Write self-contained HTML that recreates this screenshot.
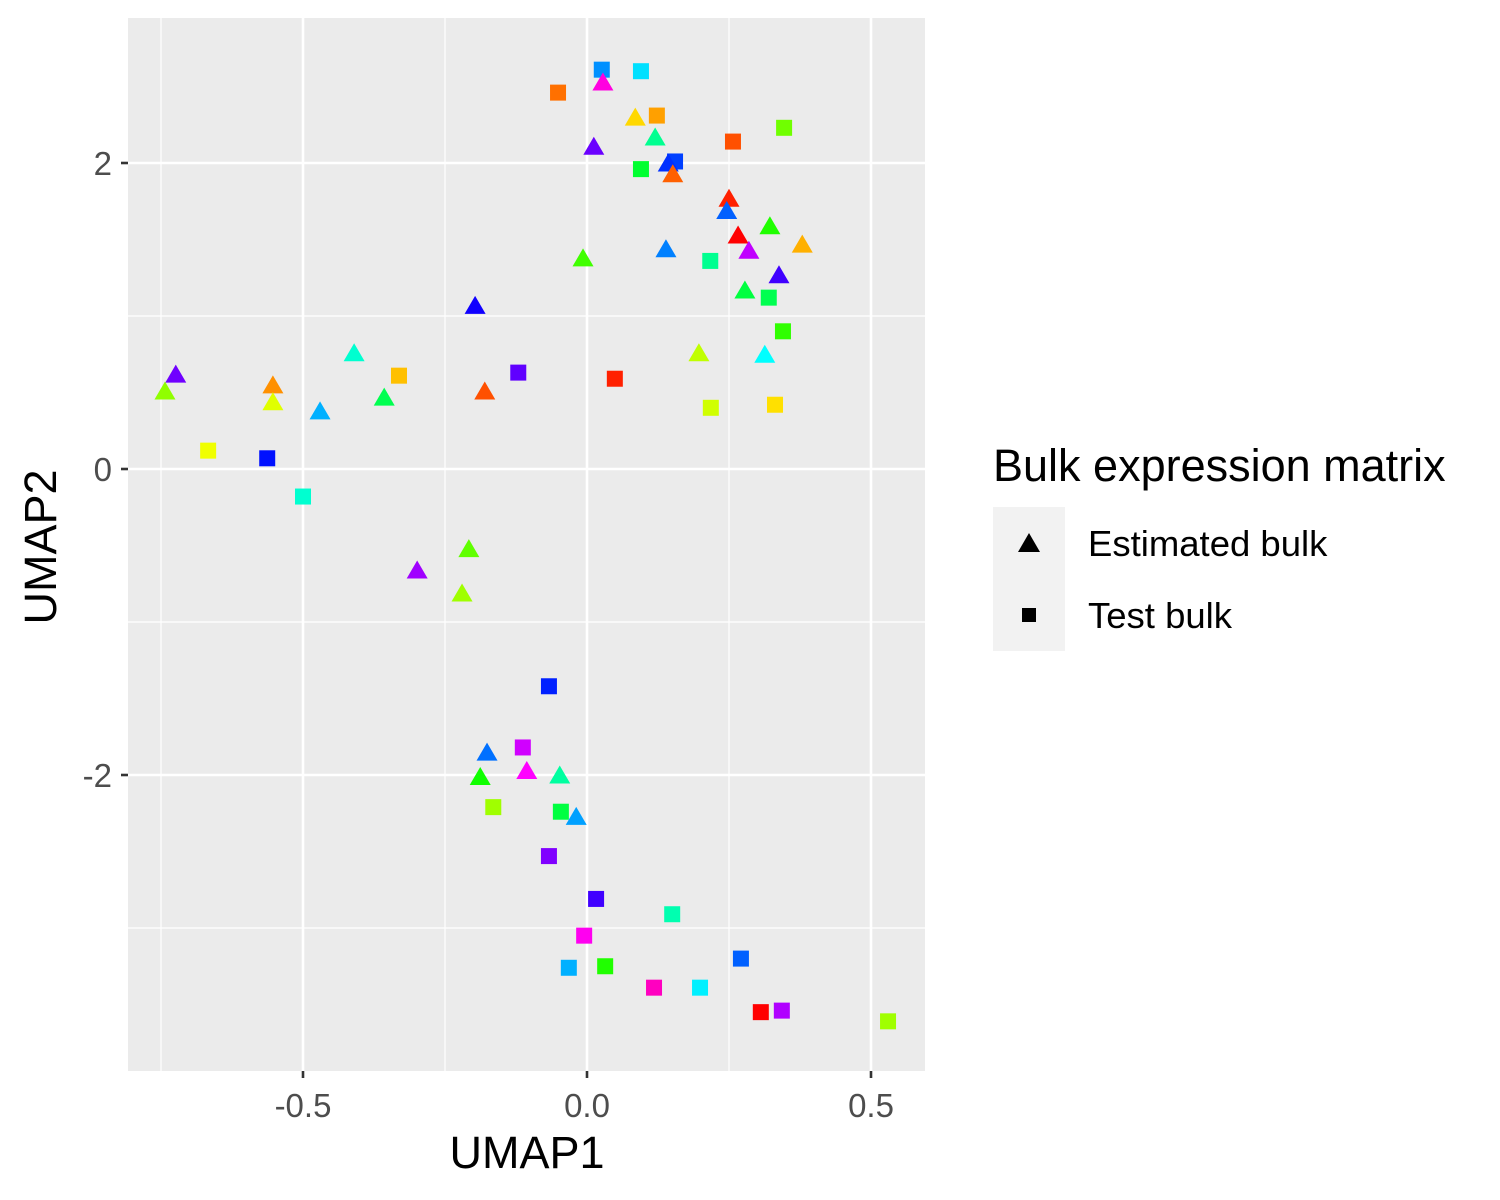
<!DOCTYPE html>
<html><head><meta charset="utf-8"><style>
html,body{margin:0;padding:0;background:#fff;}
svg{display:block;font-family:"Liberation Sans",Arial,sans-serif;}
</style></head><body>
<svg id="chart" width="1500" height="1200" viewBox="0 0 1500 1200">
<rect x="128" y="18" width="797" height="1053" fill="#ebebeb"/>
<g id="grid"></g>
<g id="points"></g>
<g id="axes"></g>
<text x="527" y="1168" font-size="45" text-anchor="middle" fill="#000">UMAP1</text>
<text x="0" y="0" font-size="45" text-anchor="middle" fill="#000" transform="translate(56,547) rotate(-90)">UMAP2</text>
<g>
<text x="993" y="481" font-size="45" fill="#000">Bulk expression matrix</text>
<rect x="993" y="507" width="72" height="144" fill="#f2f2f2"/>
<polygon points="1029,533 1040,552 1018,552" fill="#000"/>
<text x="1088" y="556" font-size="36.5" fill="#000">Estimated bulk</text>
<rect x="1022" y="608" width="14" height="14" fill="#000"/>
<text x="1088" y="628" font-size="36.5" fill="#000">Test bulk</text>
</g>
</svg>
<script>
const xTicks=[-0.5,0,0.5];
const xTickLabels=["-0.5","0.0","0.5"];
const xMinor=[-0.75,-0.25,0.25];
const yTicks=[2,0,-2];
const yTickLabels=["2","0","-2"];
const yMinor=[1,-1,-3];
const triX=[0.028,0.012,0.085,0.120,0.143,0.151,0.250,0.246,0.266,0.322,0.379,0.285,0.338,0.278,0.139,-0.007,-0.197,-0.410,0.313,0.197,-0.724,-0.743,-0.553,-0.553,-0.470,-0.357,-0.180,-0.208,-0.299,-0.220,-0.176,-0.188,-0.106,-0.048,-0.019];
const triY=[2.52,2.10,2.29,2.16,1.99,1.92,1.76,1.68,1.52,1.58,1.46,1.42,1.26,1.16,1.43,1.37,1.06,0.75,0.74,0.75,0.61,0.50,0.54,0.43,0.37,0.46,0.50,-0.53,-0.67,-0.82,-1.86,-2.02,-1.98,-2.01,-2.28];
const triCol=["#ff00e0","#6a00ff","#ffd800","#00ff90","#0030ff","#ff6000","#ff2000","#0060ff","#ff0000","#20ff00","#ffb000","#c000ff","#4000ff","#00ff40","#0080ff","#40ff00","#1000ff","#00ffd0","#00ffff","#c0ff00","#7000ff","#90ff00","#ff9000","#e0ff00","#00b0ff","#00ff50","#ff5000","#60ff00","#a000ff","#a0ff00","#0070ff","#10ff00","#ff00ff","#00ffa0","#00a0ff"];
const sqX=[0.026,0.095,-0.051,0.123,0.257,0.347,0.095,0.155,0.217,0.320,0.345,-0.121,0.049,-0.331,0.218,0.331,-0.667,-0.563,-0.500,-0.067,-0.113,-0.165,-0.046,-0.067,0.016,0.150,-0.005,-0.032,0.032,0.271,0.118,0.199,0.306,0.343,0.530];
const sqY=[2.61,2.60,2.46,2.31,2.14,2.23,1.96,2.01,1.36,1.12,0.90,0.63,0.59,0.61,0.40,0.42,0.12,0.07,-0.18,-1.42,-1.82,-2.21,-2.24,-2.53,-2.81,-2.91,-3.05,-3.26,-3.25,-3.20,-3.39,-3.39,-3.55,-3.54,-3.61];
const sqCol=["#0090ff","#00e0ff","#ff7000","#ffa000","#ff5000","#70ff00","#00ff30","#0040ff","#00ff90","#00ff50","#30ff00","#6000ff","#ff2000","#ffc000","#d0ff00","#ffe000","#f0ff00","#0010ff","#00ffd0","#0020ff","#d000ff","#a0ff00","#00ff40","#8000ff","#4000ff","#00ffb0","#ff00f0","#00b0ff","#20ff00","#0060ff","#ff00c0","#00f0ff","#ff0000","#b000ff","#a0ff00"];

const NS="http://www.w3.org/2000/svg";
const X=v=>587+568*v;
const Y=v=>469-153*v;
const P={l:128,r:925,t:18,b:1071};
function mk(tag,attrs,parent){const e=document.createElementNS(NS,tag);for(const k in attrs)e.setAttribute(k,attrs[k]);parent.appendChild(e);return e;}
const grid=document.getElementById('grid'),pts=document.getElementById('points'),axes=document.getElementById('axes');
xMinor.forEach(v=>{const e=mk('line',{x1:X(v),x2:X(v),y1:P.t,y2:P.b,stroke:'#fff','stroke-width':1.2},grid);

});
yMinor.forEach(v=>{const e=mk('line',{x1:P.l,x2:P.r,y1:Y(v),y2:Y(v),stroke:'#fff','stroke-width':1.2},grid);

});
xTicks.forEach((v,i)=>{const e=mk('line',{x1:X(v),x2:X(v),y1:P.t,y2:P.b,stroke:'#fff','stroke-width':2.6},grid);


const t=mk('line',{x1:X(v),x2:X(v),y1:P.b,y2:P.b+7,stroke:'#333','stroke-width':2.6},axes);


const l=mk('text',{x:X(v),y:1117,'font-size':33,'text-anchor':'middle',fill:'#4d4d4d'},axes);l.textContent=xTickLabels[i];

});
yTicks.forEach((v,i)=>{const e=mk('line',{x1:P.l,x2:P.r,y1:Y(v),y2:Y(v),stroke:'#fff','stroke-width':2.6},grid);


const t=mk('line',{x1:P.l-7,x2:P.l,y1:Y(v),y2:Y(v),stroke:'#333','stroke-width':2.6},axes);


const l=mk('text',{x:P.l-16,y:Y(v)+12,'font-size':33,'text-anchor':'end',fill:'#4d4d4d'},axes);l.textContent=yTickLabels[i];

});
sqX.forEach((v,i)=>{const cx=X(v),cy=Y(sqY[i]);
const e=mk('rect',{x:cx-8,y:cy-8,width:16,height:16,fill:sqCol[i]},pts);

});
triX.forEach((v,i)=>{const cx=X(v),cy=Y(triY[i]);
const e=mk('polygon',{points:`${cx},${cy-11} ${cx+10.5},${cy+7} ${cx-10.5},${cy+7}`,fill:triCol[i]},pts);

});
</script>
</body></html>
